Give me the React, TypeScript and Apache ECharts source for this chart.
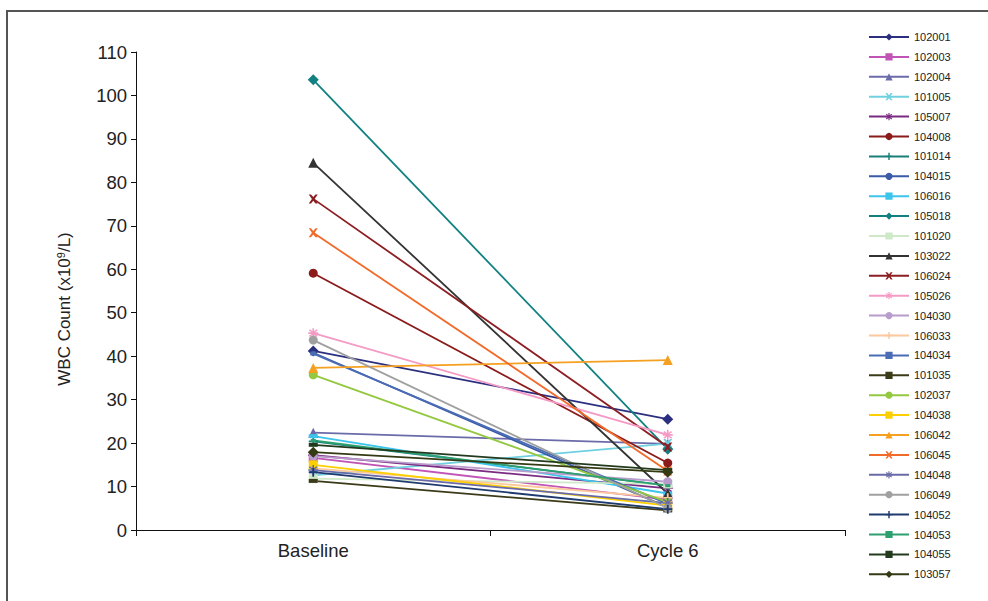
import React, { useEffect, useRef } from "react";
import * as echarts from "echarts";

const categories = ["Baseline", "Cycle 6"];
const patientIds = [
  "102001", "102003", "102004", "101005", "105007", "104008", "101014",
  "104015", "106016", "105018", "101020", "103022", "106024", "105026",
  "104030", "106033", "104034", "101035", "102037", "104038", "106042",
  "106045", "104048", "106049", "104052", "104053", "104055", "103057",
];
const baselineValues = [
  41.2, 16.6, 22.4, 12.6, 17.2, 59.1, 20.4, 40.8, 21.6, 103.6, 11.8, 84.5,
  76.2, 45.3, 17.0, 14.2, 40.6, 11.3, 35.7, 15.0, 37.3, 68.4, 13.8, 43.7,
  13.3, 20.6, 19.6, 17.9,
];
const cycle6Values = [
  25.5, 7.0, 19.8, 19.9, 9.6, 15.4, 10.2, 5.2, 8.4, 18.6, 10.6, 8.4, 19.1,
  21.9, 11.1, 7.4, 6.0, 4.5, 6.4, 5.6, 39.1, 13.6, 6.2, 5.0, 4.8, 10.2,
  13.8, 13.3,
];
const yTicks = { min: 0, max: 110, interval: 10 };

const X_PATH = "path://M0,0 L2.5,0 L5,3 L7.5,0 L10,0 L6.5,5 L10,10 L7.5,10 L5,7 L2.5,10 L0,10 L3.5,5 Z";
const PLUS_PATH = "path://M4,0 L6,0 L6,4 L10,4 L10,6 L6,6 L6,10 L4,10 L4,6 L0,6 L0,4 L4,4 Z";
const STAR_PATH = "path://M4.2,0 L5.8,0 L5.8,3.1 L8.4,1.1 L9.4,2.4 L6.6,4.2 L10,4.2 L10,5.8 L6.6,5.8 L9.4,7.6 L8.4,8.9 L5.8,6.9 L5.8,10 L4.2,10 L4.2,6.9 L1.6,8.9 L0.6,7.6 L3.4,5.8 L0,5.8 L0,4.2 L3.4,4.2 L0.6,2.4 L1.6,1.1 L4.2,3.1 Z";

const colors = [
  "#2b2f7f", "#c154b4", "#6b6baa", "#6fd0e0", "#7b2a82", "#8b1a1a", "#1a7f7a",
  "#3b5aa8", "#3cc4ec", "#128080", "#cfe8c8", "#333333", "#8b1e22", "#f59ac4",
  "#b89ccc", "#fcc89c", "#4a6cb4", "#3b3b1a", "#94c840", "#fcd000", "#f5a020",
  "#f26a2a", "#6a6aa8", "#a0a0a0", "#1e3a6e", "#2ea070", "#233a1e", "#343a14",
];
const symbols: any[] = [
  ["diamond", 11], ["rect", 9], ["triangle", 10], [X_PATH, 9], [STAR_PATH, 10],
  ["circle", 9], [PLUS_PATH, 9], ["circle", 4], ["rect", [9, 4]], ["diamond", 11],
  ["rect", 9], ["triangle", 10], [X_PATH, 9], [STAR_PATH, 10], ["circle", 9],
  [PLUS_PATH, 9], ["rect", [6, 4]], ["rect", [9, 4]], ["circle", 9], ["rect", 9],
  ["triangle", 10], [X_PATH, 9], [STAR_PATH, 10], ["circle", 9], [PLUS_PATH, 9],
  ["rect", [5, 3]], ["rect", [9, 4]], ["diamond", 11],
];

const FONT = "'Liberation Sans', Arial, sans-serif";

export default function App() {
  const ref = useRef<HTMLDivElement>(null);
  useEffect(() => {
    document.body.style.margin = "0";
    const chart = echarts.init(ref.current!, null, { renderer: "svg" });
    const series = patientIds.map((id, i) => ({
      name: id,
      type: "line",
      data: [baselineValues[i], cycle6Values[i]],
      symbol: symbols[i][0],
      symbolSize: symbols[i][1],
      showSymbol: true,
      itemStyle: { color: colors[i] },
      lineStyle: { color: colors[i], width: 1.8 },
      emphasis: { disabled: true },
    }));
    chart.setOption({
      animation: false,
      textStyle: { fontFamily: FONT },
      grid: { left: 136, right: 143, top: 52, bottom: 71, containLabel: false },
      legend: {
        orient: "vertical",
        left: 868,
        top: 31,
        itemWidth: 40,
        itemHeight: 9,
        itemGap: 7.9,
        padding: 0,
        textStyle: { fontSize: 11, lineHeight: 12, color: "#222", fontFamily: FONT },
        data: patientIds,
      },
      xAxis: {
        type: "category",
        data: categories,
        boundaryGap: true,
        axisLine: { lineStyle: { color: "#111", width: 1 } },
        axisTick: { show: true, length: 6, lineStyle: { color: "#111" } },
        axisLabel: { fontSize: 18.5, color: "#222", margin: 11, fontFamily: FONT },
      },
      yAxis: {
        type: "value",
        min: yTicks.min,
        max: yTicks.max,
        interval: yTicks.interval,
        name: "WBC Count (x10{sup|9}/L)",
        nameLocation: "middle",
        nameGap: 62,
        nameRotate: 90,
        nameTextStyle: {
          fontSize: 17,
          color: "#222",
          fontFamily: FONT,
          padding: [0, 36, 0, 0],
          rich: { sup: { fontSize: 11, color: "#222", fontFamily: FONT, padding: [0, 0, 8, 0] } },
        },
        axisLine: { show: true, lineStyle: { color: "#111", width: 1 } },
        axisTick: { show: true, length: 5, lineStyle: { color: "#111" } },
        splitLine: { show: false },
        axisLabel: { fontSize: 18.5, color: "#222", margin: 9, fontFamily: FONT },
      },
      graphic: [
        {
          type: "rect",
          shape: { x: 7, y: 11, width: 1100, height: 700 },
          style: { fill: "none", stroke: "#555", lineWidth: 2 },
          silent: true,
        },
      ],
      series,
    });
    return () => chart.dispose();
  }, []);
  return <div ref={ref} style={{ width: 988, height: 601 }} />;
}
